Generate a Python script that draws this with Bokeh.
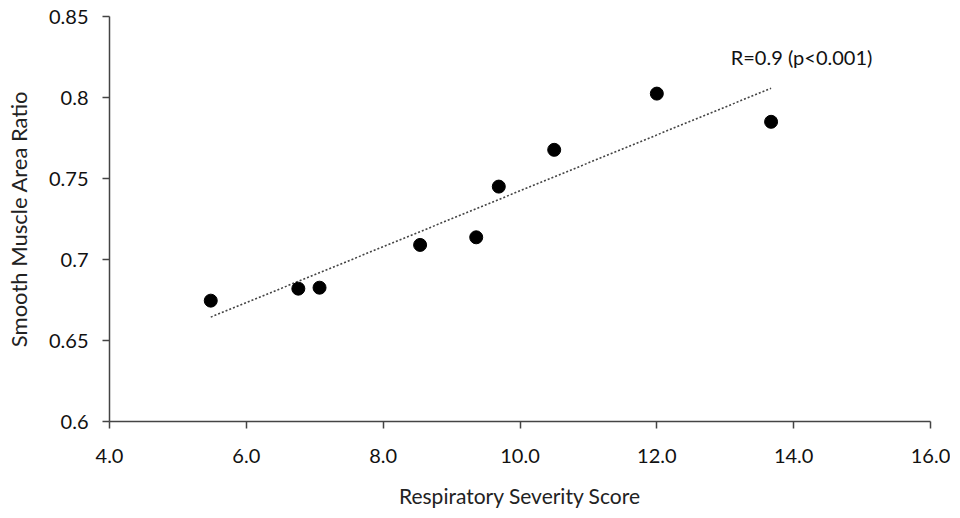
import numpy as np
from bokeh.plotting import figure
from bokeh.models import FixedTicker, Range1d
from bokeh.core.properties import value
from bokeh.embed import file_html
from bokeh.resources import INLINE

severity = [5.48, 6.76, 7.07, 8.54, 9.36, 9.69, 10.5, 12.0, 13.67]
sm_ratio = [0.6746, 0.682, 0.6826, 0.709, 0.7137, 0.745, 0.7677, 0.8024, 0.785]

x_ticks = [4, 6, 8, 10, 12, 14, 16]
x_tick_labels = ["4.0", "6.0", "8.0", "10.0", "12.0", "14.0", "16.0"]
y_ticks = [0.6, 0.65, 0.7, 0.75, 0.8, 0.85]
y_tick_labels = ["0.6", "0.65", "0.7", "0.75", "0.8", "0.85"]
annotation = "R=0.9 (p<0.001)"

FONT = "Lato"

p = figure(width=950, height=510, output_backend="svg", toolbar_location=None,
           x_range=Range1d(4, 16), y_range=Range1d(0.6, 0.85),
           min_border_left=109, min_border_right=20, min_border_top=16,
           min_border_bottom=83)
p.outline_line_color = None
p.grid.visible = False

slope, intercept = np.polyfit(severity, sm_ratio, 1)
xs = [min(severity), max(severity)]
p.line(xs, [slope * v + intercept for v in xs], line_color="#444444",
       line_width=1.6, line_dash="2 2")

p.scatter(severity, sm_ratio, size=13, fill_color="black", line_color="black")

p.text(x=[13.08], y=[0.8249], text=[annotation], text_font=value(FONT),
       text_font_size="20px", text_color="#111111", text_baseline="middle",
       text_align="left")

for ax, ticks, labels in ((p.xaxis, x_ticks, x_tick_labels), (p.yaxis, y_ticks, y_tick_labels)):
    ax.ticker = FixedTicker(ticks=ticks)
    ax.major_label_overrides = {t: l for t, l in zip(ticks, labels)}
    ax.minor_tick_line_color = None
    ax.major_tick_in = 0
    ax.major_tick_out = 7
    ax.axis_line_color = "#444444"
    ax.axis_line_width = 1.5
    ax.major_tick_line_color = "#444444"
    ax.major_tick_line_width = 1.5
    ax.major_label_text_font = FONT
    ax.major_label_text_font_size = "20px"
    ax.major_label_text_color = "#111111"
    ax.axis_label_text_font = FONT
    ax.axis_label_text_font_style = "normal"
    ax.axis_label_text_color = "#222222"

p.xaxis.axis_label = "Respiratory Severity Score"
p.yaxis.axis_label = "Smooth Muscle Area Ratio"
p.xaxis.axis_label_text_font_size = "21px"
p.yaxis.axis_label_text_font_size = "22px"
p.xaxis.major_label_standoff = 20
p.yaxis.major_label_standoff = 14
p.xaxis.axis_label_standoff = 17
p.yaxis.axis_label_standoff = 14

open("out.html", "w").write(file_html(p, INLINE))
